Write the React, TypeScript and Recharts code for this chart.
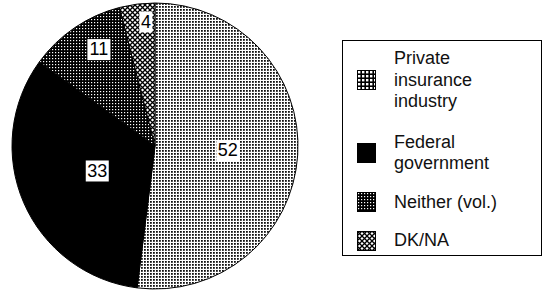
import { PieChart, Pie, Cell, Legend } from "recharts";

const categories = ["Private insurance industry", "Federal government", "Neither (vol.)", "DK/NA"];
const legendLines = [["Private", "insurance", "industry"], ["Federal", "government"], ["Neither (vol.)"], ["DK/NA"]];
const values = [52, 33, 11, 4];

const fills = ["url(#dotsLight)", "#000", "url(#dotsDark)", "url(#crossHatch)"];
const swatchFills = ["url(#gridSwatch)", "#000", "url(#dotsDark)", "url(#crossHatch)"];
// where each value label sits: fraction of radius, and a small angle nudge
const labelRadius = [0.51, 0.44, 0.78, 0.87];
const labelAngleShift = [0, 0, -4, -3];
const legendGaps = [0, 19, 17, 17];

const data = categories.map((name, i) => ({ name, value: values[i] }));

const FONT = "'Liberation Sans', Arial, Helvetica, sans-serif";

const RAD = Math.PI / 180;

function renderLabel(props: any) {
  const { cx, cy, midAngle, outerRadius, index, value } = props;
  const r = outerRadius * labelRadius[index];
  const a = (midAngle + labelAngleShift[index]) * RAD;
  const x = cx + r * Math.cos(-a);
  const y = cy + r * Math.sin(-a);
  const w = String(value).length * 10 + 3;
  return (
    <g key={`lbl-${index}`}>
      <rect x={x - w / 2} y={y - 10.5} width={w} height={21} fill="#fff" />
      <text x={x} y={y + 1} textAnchor="middle" dominantBaseline="middle" fontSize={18} fontFamily={FONT} fill="#000">
        {value}
      </text>
    </g>
  );
}

function Swatch({ index }: { index: number }) {
  return (
    <svg width={19} height={20} style={{ flex: "none" }}>
      <rect x={0.5} y={0.5} width={18} height={19} fill={swatchFills[index]} stroke="#000" strokeWidth={1} />
    </svg>
  );
}

function LegendBox() {
  return (
    <div
      style={{
        border: "1.5px solid #000",
        width: 200,
        height: 216,
        boxSizing: "border-box",
        padding: "7px 0 0 14px",
        fontFamily: FONT,
        fontSize: 18,
        lineHeight: "21.5px",
        color: "#111",
      }}
    >
      {legendLines.map((lines, i) => (
        <div key={i} style={{ display: "flex", alignItems: "center", marginTop: legendGaps[i] }}>
          <Swatch index={i} />
          <div style={{ marginLeft: 18 }}>
            {lines.map((l) => (
              <div key={l}>{l}</div>
            ))}
          </div>
        </div>
      ))}
    </div>
  );
}

export default function App() {
  return (
    <div style={{ position: "absolute", left: 0, top: 0, width: 555, height: 292, background: "#fff" }}>
      <PieChart width={555} height={292} margin={{ top: 0, right: 0, bottom: 0, left: 0 }}>
        <defs>
          <pattern id="dotsLight" width={3} height={3} patternUnits="userSpaceOnUse">
            <rect width={3} height={3} fill="#fff" />
            <rect width={1.8} height={1.8} fill="#111" />
          </pattern>
          <pattern id="gridSwatch" width={4} height={4} patternUnits="userSpaceOnUse">
            <rect width={4} height={4} fill="#000" />
            <rect x={1} y={1} width={2.4} height={2.4} fill="#fff" />
          </pattern>
          <pattern id="dotsDark" width={3} height={3} patternUnits="userSpaceOnUse">
            <rect width={3} height={3} fill="#000" />
            <rect x={1} y={1} width={1.2} height={1.2} fill="#fff" />
          </pattern>
          <pattern id="crossHatch" width={5} height={5} patternUnits="userSpaceOnUse">
            <rect width={5} height={5} fill="#fff" />
            <path d="M0,0 L5,5 M5,0 L0,5" stroke="#000" strokeWidth={1.3} />
          </pattern>
        </defs>
        <Pie
          data={data}
          dataKey="value"
          nameKey="name"
          cx={155}
          cy={146}
          outerRadius={143}
          startAngle={90}
          endAngle={-270}
          stroke="#000"
          strokeWidth={1}
          label={renderLabel}
          labelLine={false}
          isAnimationActive={false}
        >
          {data.map((d, i) => (
            <Cell key={d.name} fill={fills[i]} />
          ))}
        </Pie>
        <Legend
          content={() => <LegendBox />}
          wrapperStyle={{ position: "absolute", left: 342, top: 40, width: 200, height: 216 }}
        />
      </PieChart>
    </div>
  );
}
